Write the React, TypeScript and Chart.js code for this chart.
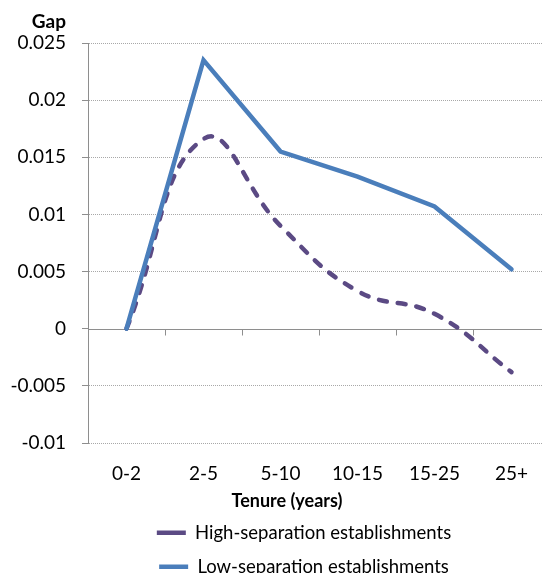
import React, { useEffect, useRef } from "react";
import { Chart, registerables } from "chart.js";

Chart.register(...registerables);

const categories = ["0-2", "2-5", "5-10", "10-15", "15-25", "25+"];
const highSeparation = [0, 0.0166, 0.009, 0.0033, 0.0013, -0.0038];
const lowSeparation = [0, 0.0235, 0.0155, 0.0133, 0.0107, 0.0052];
const yTickValues = [-0.01, -0.005, 0, 0.005, 0.01, 0.015, 0.02, 0.025];
const seriesNames = ["High-separation establishments", "Low-separation establishments"];
const yTitle = "Gap";
const xTitle = "Tenure (years)";

const FONT = "Lato";
const AXIS = "#8e8e8e";
const GRID = "#a8a8a8";
const BLUE = "#4a7ebb";
const PURPLE = "#5b4a84";
const LEGEND_CENTER = 304;
const X_TITLE_CENTER = 287;

const axisPlugin = {
  id: "zeroAxis",
  afterLayout(chart: any) {
    const lg = chart.legend;
    if (lg) {
      const shift = LEGEND_CENTER - (lg.left + lg.right) / 2;
      lg.left += shift;
      lg.right += shift;
    }
  },
  beforeDatasetsDraw(chart: any) {
    const { ctx, chartArea, scales } = chart;
    const y0 = Math.round(scales.y.getPixelForValue(0)) + 0.5;
    const xs = scales.x;
    ctx.save();
    ctx.strokeStyle = AXIS;
    ctx.lineWidth = 1;
    ctx.setLineDash([]);
    ctx.beginPath();
    ctx.moveTo(chartArea.left, y0);
    ctx.lineTo(chartArea.right, y0);
    for (let i = 0; i < categories.length - 1; i++) {
      const bx = Math.round((xs.getPixelForValue(i) + xs.getPixelForValue(i + 1)) / 2) + 0.5;
      ctx.moveTo(bx, y0);
      ctx.lineTo(bx, y0 + 6);
    }
    ctx.stroke();
    ctx.fillStyle = "#000";
    ctx.font = `bold 19px ${FONT}`;
    ctx.textAlign = "right";
    ctx.textBaseline = "alphabetic";
    ctx.fillText(yTitle, chartArea.left - 22, chartArea.top - 15);
    ctx.font = `bold 18px ${FONT}`;
    ctx.textAlign = "center";
    ctx.textBaseline = "middle";
    ctx.fillText(xTitle, X_TITLE_CENTER, xs.bottom - 7);
    ctx.restore();
  },
};

export default function App() {
  const ref = useRef<HTMLCanvasElement | null>(null);
  useEffect(() => {
    if (!ref.current) return;
    const chart = new Chart(ref.current, {
      type: "line",
      data: {
        labels: categories,
        datasets: [
          {
            label: seriesNames[1],
            data: lowSeparation,
            borderColor: BLUE,
            backgroundColor: BLUE,
            borderWidth: 4.5,
            borderCapStyle: "round",
            pointRadius: 0,
            tension: 0,
            fill: false,
          },
          {
            label: seriesNames[0],
            data: highSeparation,
            borderColor: PURPLE,
            backgroundColor: PURPLE,
            borderWidth: 4.5,
            borderDash: [8, 11],
            borderCapStyle: "round",
            pointRadius: 0,
            tension: 0.45,
            fill: false,
          },
        ],
      },
      options: {
        responsive: false,
        animation: false,
        layout: { padding: { left: 0, top: 43, right: 2, bottom: 0 } },
        plugins: {
          tooltip: { enabled: false },
          legend: {
            position: "bottom",
            labels: {
              usePointStyle: true,
              pointStyle: "line",
              pointStyleWidth: 29,
              color: "#000",
              font: { family: FONT, size: 18.5 },
              padding: 15.5,
              sort: (a: any, b: any) => b.datasetIndex - a.datasetIndex,
            },
          },
        },
        scales: {
          x: {
            type: "category",
            offset: true,
            grid: { display: false, drawTicks: false },
            border: { display: false },
            ticks: {
              color: "#000",
              font: { family: FONT, size: 19 },
              padding: 19,
              maxRotation: 0,
              autoSkip: false,
            },
            title: { display: false, text: xTitle },
            afterFit: (s: any) => {
              s.height = 65;
            },
          },
          y: {
            min: -0.01,
            max: 0.025,
            afterBuildTicks: (s: any) => {
              s.ticks = yTickValues.map((v) => ({ value: v }));
            },
            afterFit: (s: any) => {
              s.width = 88;
            },
            grid: {
              color: (c: any) => (c.tick && c.tick.value === 0 ? "rgba(0,0,0,0)" : GRID),
              tickColor: AXIS,
              tickLength: 6,
              lineWidth: 1,
            },
            border: { display: true, color: AXIS, width: 1, dash: [1, 1] },
            ticks: {
              color: "#000",
              font: { family: FONT, size: 19 },
              padding: 16,
              callback: (v: any) => String(Number(Number(v).toFixed(3))),
            },
          },
        },
      },
      plugins: [axisPlugin],
    });
    return () => chart.destroy();
  }, []);
  return (
    <div style={{ position: "absolute", left: 0, top: 0, width: 542, height: 573, overflow: "hidden", background: "#fff" }}>
      <canvas ref={ref} width={552} height={586} style={{ width: 552, height: 586, display: "block" }} />
    </div>
  );
}
